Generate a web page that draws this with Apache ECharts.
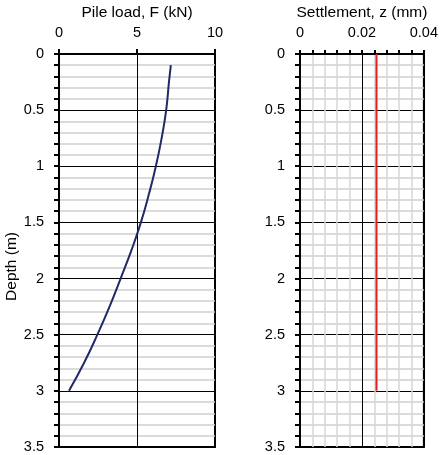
<!DOCTYPE html>
<html><head><meta charset="utf-8">
<script src="https://cdn.jsdelivr.net/npm/echarts@6/dist/echarts.min.js"></script>
<style>html,body{margin:0;padding:0;background:#fff}#c{width:441px;height:455px}</style>
</head><body><div id="c"></div>
<script>
const depth = [0.1, 0.25, 0.5, 0.75, 1.0, 1.25, 1.5, 1.75, 2.0, 2.25, 2.5, 2.75, 3.0];
const pileLoad = [7.17, 7.05, 6.87, 6.58, 6.21, 5.76, 5.25, 4.64, 3.95, 3.24, 2.46, 1.61, 0.64];
const settleDepth = [0, 3];
const settlement = [0.0247, 0.0247];

const font = 'Liberation Sans, Arial, sans-serif';
const chart = echarts.init(document.getElementById('c'));
function yAxis(idx, name) {
  return {
    type: 'value', gridIndex: idx, inverse: true, min: 0, max: 3.5, interval: 0.5,
    name: name, nameLocation: 'middle', nameGap: 38,
    nameTextStyle: {fontFamily: font, fontSize: 15.5, color: '#000', padding: [0, 32, 0, 0]},
    axisLine: {show: true, lineStyle: {color: '#000', width: 2}},
    axisTick: {show: true, length: 5, lineStyle: {color: '#000', width: 2}},
    minorTick: {show: true, splitNumber: 5, length: 5, lineStyle: {color: '#000', width: 2}},
    axisLabel: {fontFamily: font, fontSize: 14.5, color: '#000', margin: 15},
    splitLine: {show: true, lineStyle: {color: '#000', width: 1}},
    minorSplitLine: {show: true, lineStyle: {color: '#cfcfcf', width: 1.5}}
  };
}
chart.setOption({
  animation: false,
  grid: [
    {left: 59, top: 51, width: 156, height: 396, show: true, borderColor: '#000', borderWidth: 2},
    {left: 300, top: 51, width: 124, height: 396, show: true, borderColor: '#000', borderWidth: 2}
  ],
  xAxis: [
    {type: 'value', gridIndex: 0, position: 'top', min: 0, max: 10, interval: 5,
     name: 'Pile load, F (kN)', nameLocation: 'middle', nameGap: 30,
     nameTextStyle: {fontFamily: font, fontSize: 15.5, color: '#000'},
     axisLine: {show: true, lineStyle: {color: '#000', width: 2}},
     axisTick: {show: true, length: 5, lineStyle: {color: '#000', width: 2}},
     axisLabel: {fontFamily: font, fontSize: 14.5, color: '#000', margin: 13},
     splitLine: {show: true, lineStyle: {color: '#000', width: 1}}},
    {type: 'value', gridIndex: 1, position: 'top', min: 0, max: 0.04, interval: 0.02,
     name: 'Settlement, z (mm)', nameLocation: 'middle', nameGap: 30,
     nameTextStyle: {fontFamily: font, fontSize: 15.5, color: '#000'},
     axisLine: {show: true, lineStyle: {color: '#000', width: 2}},
     axisTick: {show: true, length: 4, lineStyle: {color: '#000', width: 2}},
     minorTick: {show: true, splitNumber: 5, length: 4, lineStyle: {color: '#000', width: 2}},
     axisLabel: {fontFamily: font, fontSize: 14.5, color: '#000', margin: 13},
     splitLine: {show: true, lineStyle: {color: '#000', width: 1}},
     minorSplitLine: {show: true, lineStyle: {color: '#d6d6d6', width: 1.5}}}
  ],
  yAxis: [yAxis(0, 'Depth (m)'), yAxis(1, '')],
  series: [
    {type: 'line', xAxisIndex: 0, yAxisIndex: 0, smooth: true, symbol: 'none',
     data: depth.map((d, i) => [pileLoad[i], d]),
     lineStyle: {color: '#1f2a66', width: 2}},
    {type: 'line', xAxisIndex: 1, yAxisIndex: 1, symbol: 'none',
     data: settleDepth.map((d, i) => [settlement[i], d]),
     lineStyle: {color: '#e8201c', width: 2}}
  ]
});
</script></body></html>
